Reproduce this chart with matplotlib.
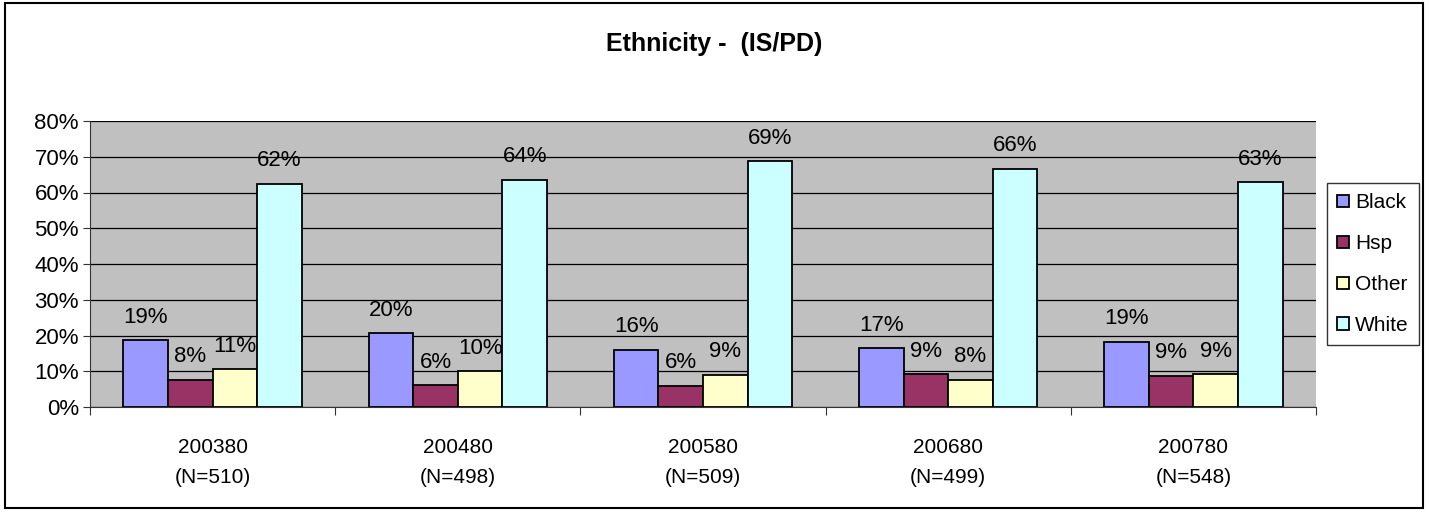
import numpy as np
import matplotlib.pyplot as plt
from matplotlib.patches import Rectangle

plt.rcParams['font.family'] = ['Liberation Sans', 'DejaVu Sans']

# DATA
categories = ['200380\n(N=510)', '200480\n(N=498)', '200580\n(N=509)',
              '200680\n(N=499)', '200780\n(N=548)']
series = ['Black', 'Hsp', 'Other', 'White']
black = [18.7, 20.6, 16.0, 16.5, 18.3]
hsp = [7.6, 6.1, 5.9, 9.2, 8.7]
other = [10.6, 10.0, 9.0, 7.6, 9.2]
white = [62.4, 63.5, 68.8, 66.6, 62.9]
labels = [['19%', '20%', '16%', '17%', '19%'],
          ['8%', '6%', '6%', '9%', '9%'],
          ['11%', '10%', '9%', '8%', '9%'],
          ['62%', '64%', '69%', '66%', '63%']]
colors = ['#9999FF', '#993366', '#FFFFCC', '#CCFFFF']

values = [black, hsp, other, white]

fig = plt.figure(figsize=(14.29, 5.12), dpi=100)
fig.patches.append(Rectangle((5 / 1429, 4 / 512), 1418 / 1429, 505 / 512,
                             transform=fig.transFigure,
                             fill=False, edgecolor='black', linewidth=1.5))
ax = fig.add_axes([90 / 1429, 1 - 407 / 512, 1226 / 1429, 286 / 512])
ax.set_facecolor('#C0C0C0')

x = np.arange(len(categories))
w = 1 / 5.5
for i, (name, vals) in enumerate(zip(series, values)):
    pos = x - 2 * w + (i + 0.5) * w
    ax.bar(pos, vals, width=w, color=colors[i], edgecolor='black',
           linewidth=1.3, label=name, zorder=3)
    for p, v, t in zip(pos, vals, labels[i]):
        ax.annotate(t, (p, v), xytext=(0, 9), textcoords='offset points',
                    ha='center', va='bottom', fontsize=16, zorder=4)

ax.set_xlim(-0.5, len(categories) - 0.5)
ax.set_ylim(0, 80)
ax.set_yticks(range(0, 81, 10))
ax.set_yticklabels([f'{v}%' for v in range(0, 81, 10)], fontsize=16)
ax.yaxis.grid(True, color='black', linewidth=0.9, zorder=1)
ax.set_xticks(np.arange(-0.5, len(categories), 1))
ax.set_xticklabels([])
ax.set_xticks(x, minor=True)
ax.set_xticklabels(categories, minor=True, fontsize=15, linespacing=1.75)
ax.tick_params(axis='x', which='minor', length=0, pad=22)
ax.tick_params(axis='x', which='major', length=6, direction='out', color='#333333')
ax.tick_params(axis='y', length=5, color='#333333', pad=3)
for s in ['top', 'right']:
    ax.spines[s].set_visible(False)
for s in ['left', 'bottom']:
    ax.spines[s].set_color('#333333')

fig.text(0.5, 1 - 44 / 512, 'Ethnicity -  (IS/PD)', ha='center', va='center',
         fontsize=18, fontweight='bold')

leg = fig.legend(loc='upper left', bbox_to_anchor=(1327 / 1429, 1 - 183 / 512),
                 fontsize=15, frameon=True, fancybox=False, edgecolor='black',
                 handlelength=0.55, handleheight=0.55, handletextpad=0.3,
                 labelspacing=1.05, borderpad=0.5, borderaxespad=0)
leg.get_frame().set_linewidth(1.0)

fig.savefig('out.png', dpi=100)
